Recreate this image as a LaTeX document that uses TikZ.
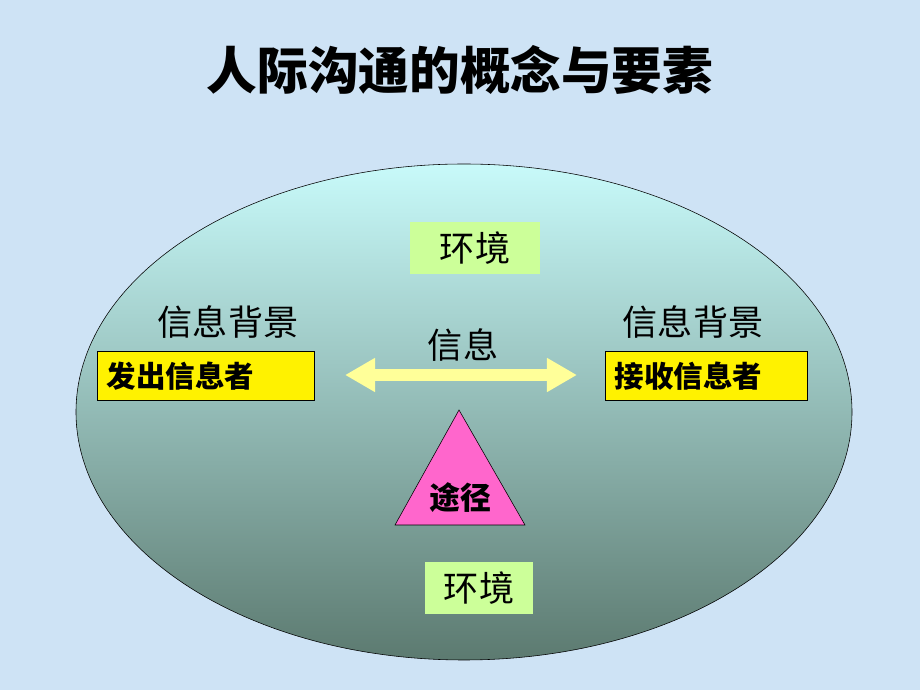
\documentclass[tikz,border=0pt]{standalone}
\usepackage{fontspec}
\setmainfont{Noto Sans CJK SC}
\usetikzlibrary{arrows.meta}

\definecolor{bgblue}{RGB}{206,227,245}
\definecolor{ovaltop}{RGB}{200,250,250}
\definecolor{ovalbot}{RGB}{92,122,112}
\definecolor{envgreen}{RGB}{204,255,153}
\definecolor{msgyellow}{RGB}{255,255,153}
\definecolor{pathpink}{RGB}{255,102,204}

\tikzset{
    envbox/.style = {fill = envgreen, minimum height = 1.3cm, font = \fontsize{25}{25}\selectfont},
    rolebox/.style = {fill = yellow, draw = black, minimum height = 1.2cm, inner sep = 0.25cm,
                      align = left, font = \fontsize{21}{21}\selectfont\bfseries},
    bglabel/.style = {font = \fontsize{25}{25}\selectfont}
}

\begin{document}
\begin{tikzpicture}[x = 0.025cm, y = 0.025cm]
    \fill[bgblue] (0, 0) rectangle (920, 690);

    \draw[top color = ovaltop, bottom color = ovalbot, draw = black] (464, 278) ellipse (388 and 248);

    \node (title) at (460, 620) {\fontsize{36}{36}\selectfont\bfseries 人际沟通的概念与要素};

    \node[envbox, minimum width = 3.25cm] (envtop) at (475, 442) {环境};
    \node[envbox, minimum width = 2.7cm] (envbot) at (479, 102) {环境};

    \node[bglabel] (bgleft) at (228, 368) {信息背景};
    \node[bglabel] (bgright) at (693, 368) {信息背景};

    \node[rolebox, text width = 4.93cm] (sender) at (205.5, 314) {发出信息者};
    \node[rolebox, text width = 4.56cm] (receiver) at (706, 314) {接收信息者};

    \node[bglabel] (msg) at (463, 345) {信息};
    \coordinate (msgL) at (345, 315);
    \coordinate (msgR) at (577, 315);
    \draw[msgyellow, line width = 0.3cm, {Triangle[length = 0.75cm, width = 0.8cm]}-{Triangle[length = 0.75cm, width = 0.8cm]}] (msgL) -- (msgR);

    \filldraw[fill = pathpink, draw = black] (459, 280) -- (525, 165) -- (395, 165) -- cycle;
    \node (way) at (460, 192) {\fontsize{22}{22}\selectfont\bfseries 途径};
\end{tikzpicture}
\end{document}
